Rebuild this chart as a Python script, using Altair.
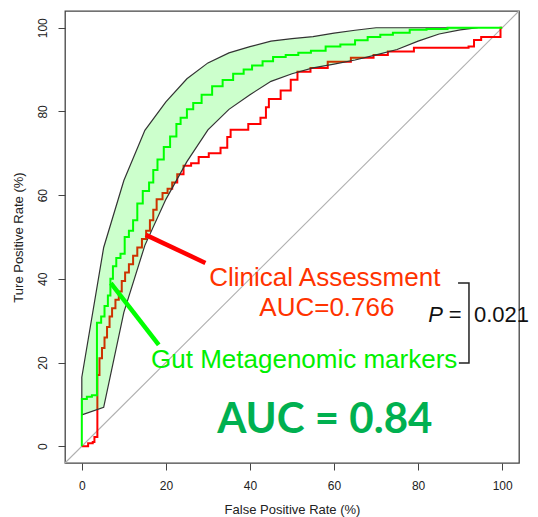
import altair as alt
import pandas as pd

# Gut metagenomic markers ROC (step curve)
green_fpr = [0, 0, 1.2, 2.4, 3.6, 4.6, 5.4, 6.2, 6.8, 7.4, 8.2, 9.2, 10.2, 11.2, 12.2, 13.2,
             14.5, 16.0, 17.0, 18.0, 19.5, 21.0, 22.5, 23.5, 25.0, 26.5, 28.5, 31.0, 33.5,
             36.0, 38.5, 40.5, 43.0, 45.5, 48.5, 51.5, 54.5, 58.0, 61.5, 65.0, 68.0, 71.0,
             74.0, 78.0, 82.0, 87.0, 100]
green_tpr = [0, 11.3, 11.8, 12.2, 29.5, 31.0, 33.5, 36.0, 40.0, 43.0, 45.0, 46.0, 50.0, 51.5,
             54.0, 58.0, 61.0, 63.0, 66.0, 68.5, 71.5, 74.0, 77.0, 78.5, 80.5, 82.0, 84.0,
             86.0, 87.5, 89.0, 90.0, 91.0, 92.0, 93.0, 93.5, 94.0, 94.5, 95.5, 96.0, 97.0,
             97.8, 98.3, 98.8, 99.5, 99.7, 100, 100]

# Clinical assessment ROC (step curve)
red_fpr = [0, 1.5, 2.6, 3.0, 3.7, 4.2, 4.8, 5.4, 6.0, 6.6, 7.2, 8.0, 8.8, 9.5, 10.3, 11.2,
           12.2, 13.2, 14.3, 15.3, 16.2, 17.0, 17.8, 19.2, 20.4, 21.5, 22.7, 24.2, 26.0,
           27.8, 30.2, 33.0, 34.6, 35.4, 39.6, 42.5, 43.8, 44.5, 47.3, 49.7, 51.3, 54.4,
           58.5, 64.0, 69.4, 72.8, 79.0, 92.0, 93.3, 95.0, 99.6, 100]
red_tpr = [0, 0.7, 1.0, 2.2, 17.0, 21.0, 23.5, 26.0, 28.5, 31.0, 33.0, 35.0, 37.0, 39.5,
           41.5, 43.5, 45.5, 47.5, 49.5, 51.5, 54.0, 56.5, 59.0, 60.5, 61.5, 63.0, 65.0,
           67.0, 67.6, 69.1, 70.0, 71.3, 73.9, 75.6, 77.0, 78.5, 81.0, 83.0, 85.0, 87.6,
           89.5, 90.4, 91.9, 92.8, 93.5, 94.3, 95.2, 95.5, 97.1, 97.8, 100, 100]

# Confidence band of the metagenomic ROC
band_fpr = [0, 5.2, 10, 15, 20, 25, 30, 35, 40, 45, 50, 55, 60, 65, 70, 75, 80, 85, 90, 94.2]
band_lo = [7.5, 9.3, 32.0, 48.0, 59.0, 68.0, 75.6, 80.5, 84.0, 87.2, 89.0, 90.4, 91.3, 92.3,
           93.5, 94.8, 96.8, 98.5, 99.5, 100]
band_hi = [16.5, 47.5, 63.5, 75.5, 82.3, 87.8, 91.6, 94.0, 95.5, 96.8, 97.4, 97.9, 98.7,
           99.4, 100, 100, 100, 100, 100, 100]

# chance diagonal
diag_v = [-4, 104]

# pointer lines (from curve to label)
red_ptr_x = [15.2, 29.4]
red_ptr_y = [50.5, 43.8]
green_ptr_x = [6.9, 18.3]
green_ptr_y = [39.0, 24.2]

# bracket
br_x = [89.5, 92.1, 92.1, 89.7]
br_y = [39.0, 39.0, 19.9, 19.9]

ticks = [0, 20, 40, 60, 80, 100]
FONT = "Liberation Sans"

xs = alt.Scale(domain=[-4, 104], nice=False, zero=False)
ys = alt.Scale(domain=[-4, 104], nice=False, zero=False)

xaxis = alt.Axis(values=ticks, title="False Positive Rate (%)", grid=False, domain=False,
                 tickSize=7, tickColor="#444", labelFont=FONT, labelFontSize=12,
                 labelColor="#222", titleFont=FONT, titleFontSize=13, titleFontWeight="normal",
                 titleColor="#222", labelPadding=10, titlePadding=12, format="d")
yaxis = alt.Axis(values=ticks, title="Ture Positive Rate (%)", grid=False, domain=False,
                 tickSize=7, tickColor="#444", labelFont=FONT, labelFontSize=12,
                 labelColor="#222", titleFont=FONT, titleFontSize=13, titleFontWeight="normal",
                 titleColor="#222", labelAngle=270, labelAlign="center", labelBaseline="bottom",
                 labelPadding=9, titlePadding=11, format="d")

diag_df = pd.DataFrame({"x": diag_v, "y": diag_v})
diag = alt.Chart(diag_df).mark_line(color="#b0b0b0", strokeWidth=1.1).encode(
    x=alt.X("x:Q", scale=xs, axis=xaxis), y=alt.Y("y:Q", scale=ys, axis=yaxis))

red_df = pd.DataFrame({"x": red_fpr, "y": red_tpr, "o": range(len(red_fpr))})
red = alt.Chart(red_df).mark_line(color="#ff0000", strokeWidth=2, interpolate="step-after").encode(
    x="x:Q", y="y:Q", order="o:Q")

band_df = pd.DataFrame({"x": band_fpr, "lo": band_lo, "hi": band_hi})
band = alt.Chart(band_df).mark_area(color="#00ff00", fillOpacity=0.2, stroke="#333333",
                                    strokeWidth=1.2, strokeOpacity=1).encode(
    x="x:Q", y="lo:Q", y2="hi:Q")

green_df = pd.DataFrame({"x": green_fpr, "y": green_tpr, "o": range(len(green_fpr))})
green = alt.Chart(green_df).mark_line(color="#00ff00", strokeWidth=2, interpolate="step-after").encode(
    x="x:Q", y="y:Q", order="o:Q")

rp = alt.Chart(pd.DataFrame({"x": red_ptr_x, "y": red_ptr_y})).mark_line(
    color="#ff0000", strokeWidth=4.5).encode(x="x:Q", y="y:Q")
gp = alt.Chart(pd.DataFrame({"x": green_ptr_x, "y": green_ptr_y})).mark_line(
    color="#00ff00", strokeWidth=4.5).encode(x="x:Q", y="y:Q")

br = alt.Chart(pd.DataFrame({"x": br_x, "y": br_y, "o": range(4)})).mark_line(
    color="#222222", strokeWidth=1.5).encode(x="x:Q", y="y:Q", order="o:Q")

clin_df = pd.DataFrame({"x": [57.8, 58.3], "y": [40.2, 33.0],
                        "t": ["Clinical Assessment", "AUC=0.766"]})
clin = alt.Chart(clin_df).mark_text(font=FONT, fontSize=26, color="#ff3300",
                                    align="center", baseline="middle").encode(
    x="x:Q", y="y:Q", text="t:N")

gut_df = pd.DataFrame({"x": [52.9], "y": [20.6], "t": ["Gut Metagenomic markers"]})
gut = alt.Chart(gut_df).mark_text(font=FONT, fontSize=26, color="#00f000",
                                  align="center", baseline="middle").encode(
    x="x:Q", y="y:Q", text="t:N")

p_df = pd.DataFrame({"x": [82.4], "y": [31.3], "t": ["P"]})
ptxt = alt.Chart(p_df).mark_text(font=FONT, fontSize=22, fontStyle="italic", color="#111111",
                                 align="left", baseline="middle").encode(
    x="x:Q", y="y:Q", text="t:N")
eq_df = pd.DataFrame({"x": [87.3], "y": [31.3], "t": ["="]})
eqtxt = alt.Chart(eq_df).mark_text(font=FONT, fontSize=22, color="#111111",
                                   align="left", baseline="middle").encode(
    x="x:Q", y="y:Q", text="t:N")
pv_df = pd.DataFrame({"x": [93.3], "y": [31.3], "t": ["0.021"]})
pvtxt = alt.Chart(pv_df).mark_text(font=FONT, fontSize=22, color="#111111",
                                   align="left", baseline="middle").encode(
    x="x:Q", y="y:Q", text="t:N")

auc_df = pd.DataFrame({"x": [57.8], "y": [6.2], "t": ["AUC = 0.84"]})
auc = alt.Chart(auc_df).mark_text(font="Lato", fontSize=42, fontWeight="bold", color="#00b050",
                                  align="center", baseline="middle").encode(
    x="x:Q", y="y:Q", text="t:N")

chart = alt.layer(diag, red, band, green, rp, gp, br, clin, gut, ptxt, eqtxt, pvtxt, auc).properties(
    width=454, height=452,
    autosize=alt.AutoSizeParams(type="none"),
    padding={"left": 65, "top": 11, "right": 19, "bottom": 54},
    background="white",
).configure_view(stroke="#444444", strokeWidth=1.3)

chart.save("out.html", embed_options={"renderer": "svg", "actions": False})
